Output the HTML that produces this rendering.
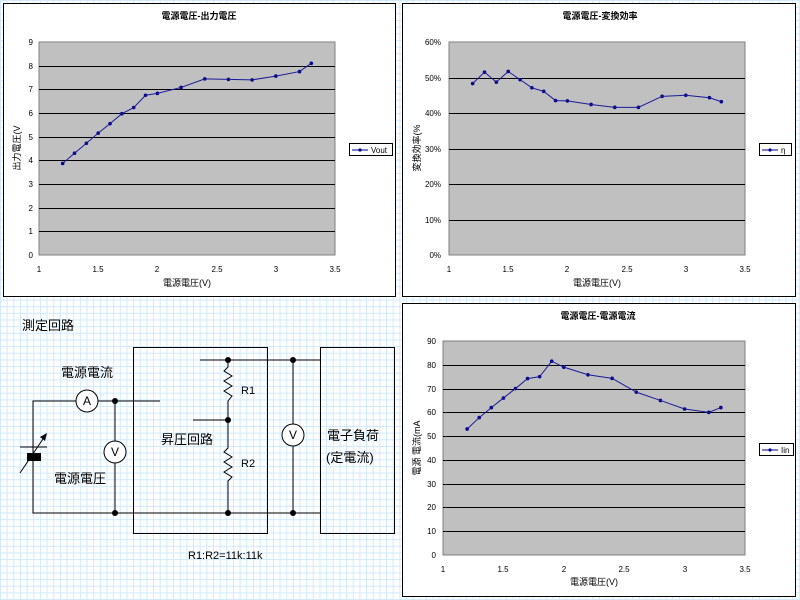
<!DOCTYPE html>
<html><head><meta charset="utf-8"><style>
body{margin:0;width:800px;height:600px;overflow:hidden;background:#fff;
background-image:linear-gradient(to right,#cfe9ff 1px,transparent 1px),linear-gradient(to bottom,#cfe9ff 1px,transparent 1px);
background-size:6.67px 6.67px;font-family:"Liberation Sans","Noto Sans CJK JP",sans-serif;}
svg{position:absolute;left:0;top:0}
text{font-family:"Liberation Sans","Noto Sans CJK JP",sans-serif}
</style></head><body>
<svg width="800" height="600" xmlns="http://www.w3.org/2000/svg">
<!-- Chart 1 -->
<rect x="3.5" y="3.5" width="392" height="293" fill="#fff" stroke="#000"/>
<rect x="39" y="42" width="296" height="213" fill="#c0c0c0" stroke="#808080"/>
<g id="g1" stroke="#000" stroke-width="1"></g>
<text x="199" y="19" font-size="9" text-anchor="middle" font-weight="bold">電源電圧-出力電圧</text>
<g font-size="8" text-anchor="end">
<text x="33" y="258">0</text><text x="33" y="234">1</text><text x="33" y="211">2</text><text x="33" y="187">3</text><text x="33" y="163">4</text><text x="33" y="140">5</text><text x="33" y="116">6</text><text x="33" y="92">7</text><text x="33" y="69">8</text><text x="33" y="45">9</text></g>
<g font-size="8" text-anchor="middle">
<text x="39" y="272">1</text><text x="98" y="272">1.5</text><text x="157" y="272">2</text><text x="217" y="272">2.5</text><text x="276" y="272">3</text><text x="335" y="272">3.5</text></g>
<text x="187" y="286" font-size="9" text-anchor="middle">電源電圧(V)</text>
<text transform="translate(20,148) rotate(-90)" font-size="9" text-anchor="middle">出力電圧(V</text>
<rect x="349.5" y="143.5" width="43" height="12" fill="#fff" stroke="#000"/>
<line x1="352" y1="150" x2="368" y2="150" stroke="#00008b"/><circle cx="360" cy="150" r="1.6" fill="#00008b"/>
<text x="371" y="153" font-size="8">Vout</text>

<!-- Chart 2 -->
<rect x="402.5" y="3.5" width="393" height="293" fill="#fff" stroke="#000"/>
<rect x="449" y="42" width="296" height="213" fill="#c0c0c0" stroke="#808080"/>
<g id="g2" stroke="#000" stroke-width="1"></g>
<text x="600" y="19" font-size="9" text-anchor="middle" font-weight="bold">電源電圧-変換効率</text>
<g font-size="8" text-anchor="end">
<text x="441" y="258">0%</text><text x="441" y="223">10%</text><text x="441" y="187">20%</text><text x="441" y="152">30%</text><text x="441" y="116">40%</text><text x="441" y="81">50%</text><text x="441" y="45">60%</text></g>
<g font-size="8" text-anchor="middle">
<text x="449" y="272">1</text><text x="508" y="272">1.5</text><text x="567" y="272">2</text><text x="627" y="272">2.5</text><text x="686" y="272">3</text><text x="745" y="272">3.5</text></g>
<text x="597" y="286" font-size="9" text-anchor="middle">電源電圧(V)</text>
<text transform="translate(420,148) rotate(-90)" font-size="9" text-anchor="middle">変換効率(%</text>
<rect x="759.5" y="143.5" width="32" height="12" fill="#fff" stroke="#000"/>
<line x1="762" y1="150" x2="778" y2="150" stroke="#00008b"/><circle cx="770" cy="150" r="1.6" fill="#00008b"/>
<text x="781" y="153" font-size="8">η</text>

<!-- Chart 3 -->
<rect x="402.5" y="303.5" width="393" height="293" fill="#fff" stroke="#000"/>
<rect x="443" y="341" width="302" height="214" fill="#c0c0c0" stroke="#808080"/>
<g id="g3" stroke="#000" stroke-width="1"></g>
<text x="598" y="319" font-size="9" text-anchor="middle" font-weight="bold">電源電圧-電源電流</text>
<g font-size="8" text-anchor="end">
<text x="436" y="558">0</text><text x="436" y="534">10</text><text x="436" y="510">20</text><text x="436" y="487">30</text><text x="436" y="463">40</text><text x="436" y="439">50</text><text x="436" y="415">60</text><text x="436" y="392">70</text><text x="436" y="368">80</text><text x="436" y="344">90</text></g>
<g font-size="8" text-anchor="middle">
<text x="443" y="572">1</text><text x="503" y="572">1.5</text><text x="564" y="572">2</text><text x="624" y="572">2.5</text><text x="685" y="572">3</text><text x="745" y="572">3.5</text></g>
<text x="594" y="585" font-size="9" text-anchor="middle">電源電圧(V)</text>
<text transform="translate(420,448) rotate(-90)" font-size="9" text-anchor="middle">電源 電流(mA</text>
<rect x="759.5" y="443.5" width="34" height="12" fill="#fff" stroke="#000"/>
<line x1="762" y1="450" x2="778" y2="450" stroke="#00008b"/><circle cx="770" cy="450" r="1.6" fill="#00008b"/>
<text x="781" y="453" font-size="8">Iin</text>

<!-- Circuit -->
<g stroke="#000" stroke-width="1" fill="none">
<polyline points="76,401 33,401 33,513 320,513"/>
<line x1="98" y1="401" x2="160" y2="401"/>
<line x1="115" y1="401" x2="115" y2="441"/><line x1="115" y1="463" x2="115" y2="513"/>
<circle cx="87" cy="401" r="11" fill="#fff"/>
<circle cx="115" cy="452" r="11" fill="#fff"/>
<rect x="133.5" y="347.5" width="134" height="186"/>
<rect x="320.5" y="347.5" width="74" height="186"/>
<line x1="200" y1="360" x2="320" y2="360"/>
<polyline points="228,360 228,367 224,371 232,376 224,381 232,386 224,391 232,396 228,401 228,420 228,448 224,452 232,457 224,462 232,467 224,472 232,477 228,481 228,513"/>
<line x1="193" y1="420" x2="228" y2="420"/>
<line x1="293" y1="360" x2="293" y2="424"/><line x1="293" y1="446" x2="293" y2="513"/>
<circle cx="293" cy="435" r="11" fill="#fff"/>
<line x1="20" y1="447" x2="47" y2="447"/>
<line x1="20" y1="473" x2="45" y2="436"/>
</g>
<rect x="27" y="453" width="14" height="8" fill="#000"/>
<polygon points="47,433 40,437 45,441" fill="#000"/>
<g fill="#000"><circle cx="115" cy="401" r="3"/><circle cx="115" cy="513" r="3"/><circle cx="228" cy="360" r="3"/><circle cx="228" cy="420" r="3"/><circle cx="228" cy="513" r="3"/><circle cx="293" cy="360" r="3"/><circle cx="293" cy="513" r="3"/></g>
<g font-size="12" text-anchor="middle"><text x="87" y="405">A</text><text x="115" y="456">V</text><text x="293" y="439">V</text></g>
<g font-size="13">
<text x="22" y="330">測定回路</text>
<text x="61" y="377">電源電流</text>
<text x="54" y="483">電源電圧</text>
<text x="161" y="444">昇圧回路</text>
<text x="327" y="440">電子負荷</text>
<text x="326" y="462">(定電流)</text>
</g>
<g font-size="11"><text x="241" y="394">R1</text><text x="241" y="467">R2</text><text x="188" y="559">R1:R2=11k:11k</text></g>
</svg>
<script>
var xs=[1.2,1.3,1.4,1.5,1.6,1.7,1.8,1.9,2.0,2.2,2.4,2.6,2.8,3.0,3.2,3.3];
var d1=[3.87,4.3,4.72,5.15,5.55,5.97,6.23,6.75,6.83,7.08,7.44,7.42,7.4,7.56,7.75,8.1];
var d2=[48.3,51.5,48.7,51.7,49.4,47.1,46.1,43.5,43.4,42.4,41.6,41.6,44.7,45.0,44.3,43.2];
var d3=[53,57.8,62,66,70,74.2,75,81.5,79,75.8,74.3,68.5,65,61.4,60,62];
var NS="http://www.w3.org/2000/svg";
function chart(id,x0,x1,y0,y1,ymax,n,data){
 var g=document.getElementById(id),svg=g.ownerSVGElement;
 for(var i=1;i<n;i++){var y=y1-(y1-y0)*i/n;var l=document.createElementNS(NS,'line');
 l.setAttribute('x1',x0);l.setAttribute('x2',x1);l.setAttribute('y1',Math.round(y)+.5);l.setAttribute('y2',Math.round(y)+.5);g.appendChild(l);}
 var pts=[];for(var i=0;i<xs.length;i++){var px=x0+(xs[i]-1)/2.5*(x1-x0),py=y1-data[i]/ymax*(y1-y0);pts.push(px+','+py);
 var c=document.createElementNS(NS,'circle');c.setAttribute('cx',px);c.setAttribute('cy',py);c.setAttribute('r',1.8);c.setAttribute('fill','#00008b');svg.appendChild(c);}
 var p=document.createElementNS(NS,'polyline');p.setAttribute('points',pts.join(' '));p.setAttribute('fill','none');p.setAttribute('stroke','#1a1a99');svg.appendChild(p);
}
chart('g1',39,335,42,255,9,9,d1);
chart('g2',449,745,42,255,60,6,d2);
chart('g3',443,745,341,555,90,9,d3);
</script>
</body></html>
